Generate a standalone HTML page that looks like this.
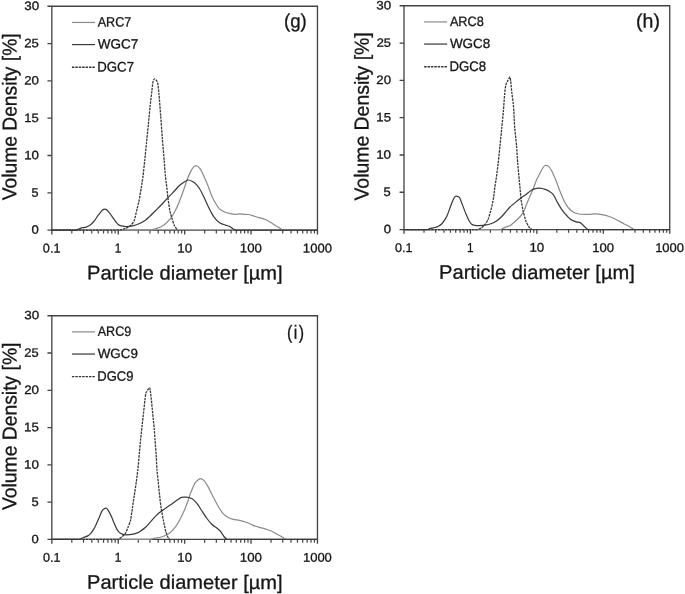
<!DOCTYPE html>
<html><head><meta charset="utf-8"><title>Particle size distributions</title><style>
html,body{margin:0;padding:0;background:#fff;}
svg{display:block;}
text{font-family:"Liberation Sans", sans-serif;fill:#161616;stroke:#161616;stroke-width:0.3px;}
</style></head><body>
<svg width="685" height="594" viewBox="0 0 685 594">
<rect width="685" height="594" fill="#fff"/>
<path d="M51.83 6.28H317.46V234.42" fill="none" stroke="#434343" stroke-width="1.33"/>
<path d="M51.83 5.68V234.42" fill="none" stroke="#434343" stroke-width="1.33"/>
<path d="M47.43 230.12H51.83M47.43 192.81H51.83M47.43 155.51H51.83M47.43 118.20H51.83M47.43 80.89H51.83M47.43 43.59H51.83M47.43 6.28H51.83" stroke="#434343" stroke-width="1.33"/>
<path d="M51.83 230.12H317.46" stroke="#434343" stroke-width="1.33"/>
<path d="M118.24 230.12V234.42M184.64 230.12V234.42M251.05 230.12V234.42" stroke="#434343" stroke-width="1.33"/>
<path d="M71.82 230.12V233.42M83.51 230.12V233.42M91.81 230.12V233.42M98.25 230.12V233.42M103.51 230.12V233.42M107.95 230.12V233.42M111.80 230.12V233.42M115.20 230.12V233.42M138.23 230.12V233.42M149.92 230.12V233.42M158.22 230.12V233.42M164.65 230.12V233.42M169.91 230.12V233.42M174.36 230.12V233.42M178.21 230.12V233.42M181.61 230.12V233.42M204.64 230.12V233.42M216.33 230.12V233.42M224.63 230.12V233.42M231.06 230.12V233.42M236.32 230.12V233.42M240.77 230.12V233.42M244.62 230.12V233.42M248.01 230.12V233.42M271.04 230.12V233.42M282.74 230.12V233.42M291.03 230.12V233.42M297.47 230.12V233.42M302.73 230.12V233.42M307.17 230.12V233.42M311.02 230.12V233.42M314.42 230.12V233.42" stroke="#434343" stroke-width="1.2"/>
<path d="M51.83 230.12H150.00C151.40 229.78 155.66 228.90 157.00 228.40C158.46 227.86 162.75 225.80 164.00 224.90C165.33 223.94 168.86 220.37 169.90 219.10C170.98 217.79 173.79 213.49 174.60 212.00C175.65 210.07 178.37 204.04 179.20 202.00C180.21 199.54 182.90 192.01 183.80 189.50C184.58 187.31 186.75 180.66 187.60 178.50C188.27 176.78 190.53 171.71 191.40 170.10C191.79 169.39 193.31 167.42 193.90 166.90C194.31 166.54 195.94 165.56 196.40 165.70C197.20 165.94 199.64 168.02 200.20 168.80C201.16 170.16 203.29 174.86 204.00 176.40C204.81 178.16 207.08 183.50 207.80 185.30C208.60 187.30 210.75 193.42 211.60 195.40C212.27 196.96 214.55 201.53 215.40 203.00C216.07 204.17 218.26 207.66 219.20 208.60C220.02 209.42 223.13 211.32 224.20 211.80C225.39 212.34 229.22 213.40 230.50 213.70C231.42 213.92 234.26 214.39 235.20 214.40C236.04 214.41 238.56 213.81 239.40 213.80C240.28 213.79 242.92 214.23 243.80 214.30C244.66 214.37 247.25 214.37 248.10 214.50C248.99 214.63 251.63 215.35 252.50 215.60C253.57 215.91 256.73 216.99 257.80 217.30C258.83 217.59 261.98 218.28 263.00 218.60C263.72 218.82 265.83 219.66 266.50 220.00C267.41 220.46 270.03 222.07 270.90 222.60C271.79 223.15 274.42 224.84 275.30 225.40C276.00 225.84 278.11 227.14 278.80 227.60C279.51 228.08 281.60 229.62 282.30 230.12" fill="none" stroke="#8a8a8a" stroke-width="1.2" stroke-linejoin="round"/>
<path d="M51.83 230.12H76.40C77.20 229.76 79.57 228.56 80.40 228.30C81.51 227.96 85.00 227.45 86.10 227.10C86.78 226.89 88.69 225.87 89.30 225.50C89.81 225.19 91.27 224.11 91.70 223.70C92.39 223.03 94.32 220.86 94.90 220.10C95.60 219.18 97.42 216.23 98.10 215.30C98.54 214.69 100.02 212.98 100.50 212.40C100.98 211.84 102.29 209.88 102.90 209.60C103.49 209.32 105.91 209.30 106.50 209.60C107.21 209.96 108.85 212.21 109.40 212.90C110.07 213.75 111.96 216.42 112.60 217.30C113.24 218.18 115.13 220.84 115.80 221.70C116.25 222.28 117.62 224.07 118.20 224.50C118.74 224.91 120.73 225.74 121.40 225.90C122.43 226.14 125.64 226.51 126.70 226.50C127.86 226.49 131.36 226.04 132.50 225.80C133.70 225.54 137.27 224.49 138.40 224.00C139.85 223.37 144.09 221.09 145.40 220.20C146.41 219.51 149.10 216.95 150.00 216.10C151.20 214.97 154.72 211.46 155.90 210.30C157.06 209.14 160.57 205.69 161.70 204.50C162.91 203.23 166.39 199.27 167.60 198.00C168.73 196.81 172.27 193.39 173.40 192.20C174.59 190.95 177.95 186.99 179.20 185.80C180.05 184.99 182.91 182.84 183.90 182.20C184.71 181.68 187.31 180.07 188.20 180.00C189.05 179.93 191.80 181.05 192.60 181.50C193.44 181.97 195.74 183.89 196.40 184.60C197.26 185.53 199.55 188.61 200.20 189.70C201.07 191.15 203.26 195.77 204.00 197.30C204.78 198.93 207.02 203.87 207.80 205.50C208.54 207.03 210.76 211.63 211.60 213.10C212.28 214.29 214.51 217.78 215.40 218.80C216.27 219.80 219.29 222.51 220.40 223.20C221.31 223.77 224.47 224.74 225.50 225.10C226.25 225.36 228.59 225.95 229.30 226.30C230.11 226.71 232.31 228.42 233.10 228.90C233.57 229.19 235.10 229.88 235.60 230.12H317.46" fill="none" stroke="#3a3a3a" stroke-width="1.22" stroke-linejoin="round"/>
<path d="M51.83 230.12H119.70C120.86 229.78 124.40 228.89 125.50 228.40C126.74 227.85 130.42 225.81 131.40 224.90C132.18 224.17 133.92 221.22 134.30 220.20C134.96 218.42 136.14 212.76 136.60 210.90C137.06 209.02 138.52 203.40 138.90 201.50C139.46 198.72 140.84 190.30 141.30 187.50C141.66 185.28 142.72 178.63 143.00 176.40C143.40 173.23 144.37 163.68 144.70 160.50C145.07 156.96 146.14 146.34 146.50 142.80C146.86 139.26 147.95 128.64 148.30 125.10C148.65 121.56 149.63 110.94 150.00 107.40C150.33 104.22 151.42 94.68 151.80 91.50C152.04 89.44 152.67 83.20 153.10 81.20C153.21 80.66 154.15 78.86 154.50 78.80C154.85 78.74 156.25 80.18 156.60 80.60C156.87 80.92 157.52 82.08 157.60 82.50C157.98 84.60 158.70 91.05 158.90 93.20C159.32 97.79 160.35 111.60 160.70 116.20C161.05 120.82 162.04 134.68 162.40 139.30C162.74 143.54 163.86 156.26 164.20 160.50C164.46 163.68 165.10 173.23 165.40 176.40C165.54 177.93 166.22 182.48 166.40 184.00C166.76 187.04 167.71 196.17 168.10 199.20C168.41 201.55 169.42 208.59 169.90 210.90C170.24 212.57 171.70 217.47 172.20 219.10C172.64 220.51 173.97 224.78 174.60 226.10C175.03 226.98 176.92 229.32 177.50 230.12" fill="none" stroke="#383838" stroke-width="1.3" stroke-linejoin="round" stroke-dasharray="2.5 0.9"/>
<path d="M71.93 22.44H95.03" stroke="#8a8a8a" stroke-width="1.2"/>
<path d="M71.93 44.58H95.03" stroke="#3a3a3a" stroke-width="1.22"/>
<path d="M71.93 67.24H95.43" stroke="#383838" stroke-width="1.3" stroke-dasharray="2.5 0.9"/>
<path d="M403.99 5.77H669.74V233.86" fill="none" stroke="#434343" stroke-width="1.33"/>
<path d="M403.99 5.17V233.86" fill="none" stroke="#434343" stroke-width="1.33"/>
<path d="M399.59 229.56H403.99M399.59 192.26H403.99M399.59 154.96H403.99M399.59 117.67H403.99M399.59 80.37H403.99M399.59 43.07H403.99M399.59 5.77H403.99" stroke="#434343" stroke-width="1.33"/>
<path d="M403.99 229.56H669.74" stroke="#434343" stroke-width="1.33"/>
<path d="M470.43 229.56V233.86M536.87 229.56V233.86M603.30 229.56V233.86" stroke="#434343" stroke-width="1.33"/>
<path d="M423.99 229.56V232.86M435.69 229.56V232.86M443.99 229.56V232.86M450.43 229.56V232.86M455.69 229.56V232.86M460.14 229.56V232.86M463.99 229.56V232.86M467.39 229.56V232.86M490.43 229.56V232.86M502.13 229.56V232.86M510.43 229.56V232.86M516.87 229.56V232.86M522.13 229.56V232.86M526.57 229.56V232.86M530.43 229.56V232.86M533.82 229.56V232.86M556.86 229.56V232.86M568.56 229.56V232.86M576.86 229.56V232.86M583.30 229.56V232.86M588.56 229.56V232.86M593.01 229.56V232.86M596.86 229.56V232.86M600.26 229.56V232.86M623.30 229.56V232.86M635.00 229.56V232.86M643.30 229.56V232.86M649.74 229.56V232.86M655.00 229.56V232.86M659.45 229.56V232.86M663.30 229.56V232.86M666.70 229.56V232.86" stroke="#434343" stroke-width="1.2"/>
<path d="M403.99 229.56H500.80C501.64 229.13 504.14 227.78 505.00 227.40C506.02 226.95 509.25 225.96 510.20 225.40C511.33 224.72 514.41 222.09 515.40 221.20C516.51 220.21 519.74 217.13 520.70 216.00C521.42 215.15 523.31 212.31 523.80 211.30C524.55 209.79 526.25 204.97 526.90 203.40C527.51 201.93 529.47 197.56 530.10 196.10C530.73 194.64 532.62 190.27 533.20 188.80C533.86 187.13 535.59 182.04 536.30 180.40C536.85 179.12 538.86 175.44 539.50 174.20C539.90 173.42 541.07 171.07 541.50 170.30C541.87 169.63 543.03 167.60 543.50 167.00C543.77 166.64 544.80 165.55 545.20 165.50C545.82 165.43 548.10 165.97 548.60 166.40C549.44 167.11 551.36 170.17 551.90 171.20C552.84 173.01 555.23 178.70 556.00 180.60C556.85 182.72 559.16 189.18 560.00 191.30C560.76 193.22 563.08 198.96 564.00 200.80C564.70 202.20 567.11 206.31 568.10 207.50C569.01 208.59 572.30 211.47 573.50 212.20C574.44 212.77 577.71 213.80 578.80 214.00C580.13 214.24 584.24 214.36 585.60 214.40C586.48 214.42 589.12 214.35 590.00 214.30C591.00 214.25 594.00 213.87 595.00 213.90C596.38 213.93 600.54 214.35 601.90 214.60C603.38 214.87 607.78 216.00 609.20 216.50C610.70 217.02 615.08 218.99 616.50 219.70C618.00 220.45 622.32 223.01 623.80 223.80C624.94 224.41 628.47 226.06 629.60 226.70C630.51 227.22 633.12 228.99 634.00 229.56" fill="none" stroke="#8a8a8a" stroke-width="1.2" stroke-linejoin="round"/>
<path d="M403.99 229.56H427.90C428.60 229.27 430.68 228.31 431.40 228.10C432.08 227.90 434.21 227.68 434.90 227.50C435.61 227.32 437.76 226.65 438.40 226.30C439.16 225.89 441.29 224.31 441.90 223.70C442.51 223.09 444.03 220.93 444.50 220.20C445.09 219.27 446.75 216.40 447.20 215.40C447.81 214.04 449.28 209.80 449.80 208.40C450.32 207.00 451.80 202.76 452.40 201.40C452.84 200.40 454.32 197.33 455.00 196.60C455.28 196.31 456.78 196.22 457.20 196.30C457.66 196.38 459.11 197.03 459.40 197.40C459.91 198.05 460.87 200.59 461.20 201.40C461.75 202.79 463.27 207.01 463.80 208.40C464.31 209.73 465.84 213.70 466.40 215.00C466.90 216.16 468.47 219.61 469.10 220.70C469.53 221.45 471.05 223.68 471.70 224.20C472.19 224.60 474.16 225.18 474.80 225.30C475.72 225.46 478.56 225.61 479.50 225.60C480.64 225.59 484.08 225.38 485.20 225.20C486.36 225.02 489.81 224.21 490.90 223.80C492.07 223.35 495.47 221.61 496.50 220.90C497.69 220.09 500.97 217.21 502.00 216.20C502.87 215.35 505.20 212.52 506.00 211.60C506.84 210.64 509.29 207.69 510.20 206.80C511.17 205.85 514.35 203.26 515.40 202.40C516.45 201.54 519.62 199.01 520.70 198.20C521.72 197.43 524.88 195.27 525.90 194.50C526.96 193.71 529.99 191.10 531.10 190.40C531.87 189.92 534.43 188.83 535.30 188.60C536.11 188.39 538.67 188.14 539.50 188.20C540.65 188.28 544.10 188.95 545.20 189.30C546.04 189.57 548.46 190.81 549.20 191.30C550.08 191.89 552.67 193.86 553.30 194.70C554.29 196.02 556.47 200.64 557.30 202.10C558.07 203.46 560.43 207.51 561.30 208.80C562.05 209.93 564.51 213.18 565.40 214.20C566.41 215.34 569.58 218.72 570.80 219.60C571.72 220.26 575.01 221.55 576.10 221.90C576.89 222.15 579.50 222.22 580.20 222.60C581.12 223.10 583.41 225.55 584.20 226.30C584.89 226.95 586.92 228.91 587.60 229.56H669.74" fill="none" stroke="#3a3a3a" stroke-width="1.22" stroke-linejoin="round"/>
<path d="M403.99 229.56H477.70C478.44 229.25 480.76 228.46 481.40 228.00C482.26 227.39 484.55 225.04 485.20 224.20C485.87 223.34 487.57 220.50 488.00 219.50C488.61 218.06 489.97 213.51 490.40 212.00C490.83 210.49 491.97 205.93 492.30 204.40C492.63 202.91 493.48 198.41 493.70 196.90C493.98 195.01 494.54 189.29 494.80 187.40C495.06 185.51 496.04 179.89 496.30 178.00C496.72 175.01 497.86 166.00 498.20 163.00C498.60 159.48 499.64 148.92 500.00 145.40C500.36 141.86 501.45 131.24 501.80 127.70C502.13 124.36 503.12 114.34 503.40 111.00C503.70 107.48 504.37 96.91 504.70 93.40C504.85 91.75 505.40 86.79 505.80 85.20C506.06 84.17 507.52 81.26 508.00 80.30C508.34 79.62 509.65 76.90 509.90 77.00C510.19 77.12 510.59 80.51 510.70 81.40C510.97 83.59 511.55 90.20 511.80 92.40C512.05 94.58 512.97 101.12 513.20 103.30C513.37 104.84 513.71 109.46 513.80 111.00C514.01 114.34 514.44 124.37 514.70 127.70C514.98 131.25 516.20 141.86 516.50 145.40C516.80 148.92 517.42 159.48 517.70 163.00C517.96 166.30 518.90 176.20 519.20 179.50C519.36 181.20 519.84 186.30 520.00 188.00C520.24 190.46 520.86 197.85 521.20 200.30C521.52 202.61 522.79 209.52 523.30 211.80C523.73 213.70 525.23 219.38 525.90 221.20C526.31 222.34 528.07 225.57 528.70 226.60C528.95 227.01 529.94 228.09 530.30 228.40C530.64 228.68 531.82 229.33 532.20 229.56" fill="none" stroke="#383838" stroke-width="1.3" stroke-linejoin="round" stroke-dasharray="2.5 0.9"/>
<path d="M424.09 21.93H447.19" stroke="#8a8a8a" stroke-width="1.2"/>
<path d="M424.09 44.07H447.19" stroke="#3a3a3a" stroke-width="1.22"/>
<path d="M424.09 66.73H447.59" stroke="#383838" stroke-width="1.3" stroke-dasharray="2.5 0.9"/>
<path d="M51.83 315.73H317.46V543.70" fill="none" stroke="#434343" stroke-width="1.33"/>
<path d="M51.83 315.13V543.70" fill="none" stroke="#434343" stroke-width="1.33"/>
<path d="M47.43 539.40H51.83M47.43 502.12H51.83M47.43 464.84H51.83M47.43 427.56H51.83M47.43 390.29H51.83M47.43 353.01H51.83M47.43 315.73H51.83" stroke="#434343" stroke-width="1.33"/>
<path d="M51.83 539.40H317.46" stroke="#434343" stroke-width="1.33"/>
<path d="M118.24 539.40V543.70M184.64 539.40V543.70M251.05 539.40V543.70" stroke="#434343" stroke-width="1.33"/>
<path d="M71.82 539.40V542.70M83.51 539.40V542.70M91.81 539.40V542.70M98.25 539.40V542.70M103.51 539.40V542.70M107.95 539.40V542.70M111.80 539.40V542.70M115.20 539.40V542.70M138.23 539.40V542.70M149.92 539.40V542.70M158.22 539.40V542.70M164.65 539.40V542.70M169.91 539.40V542.70M174.36 539.40V542.70M178.21 539.40V542.70M181.61 539.40V542.70M204.64 539.40V542.70M216.33 539.40V542.70M224.63 539.40V542.70M231.06 539.40V542.70M236.32 539.40V542.70M240.77 539.40V542.70M244.62 539.40V542.70M248.01 539.40V542.70M271.04 539.40V542.70M282.74 539.40V542.70M291.03 539.40V542.70M297.47 539.40V542.70M302.73 539.40V542.70M307.17 539.40V542.70M311.02 539.40V542.70M314.42 539.40V542.70" stroke="#434343" stroke-width="1.2"/>
<path d="M51.83 539.40H149.50C150.76 539.16 154.55 538.47 155.80 538.20C157.07 537.93 160.87 537.08 162.10 536.70C163.19 536.36 166.44 535.19 167.40 534.60C168.58 533.87 171.87 531.14 172.80 530.10C174.05 528.72 177.35 524.11 178.30 522.50C179.55 520.39 182.79 513.74 183.80 511.50C184.75 509.40 187.31 502.96 188.10 500.80C188.59 499.46 189.68 495.32 190.20 494.00C191.12 491.68 193.96 484.64 195.30 482.60C195.98 481.56 199.25 478.83 200.30 478.60C201.01 478.45 203.51 480.09 204.10 480.70C205.03 481.65 207.23 485.21 207.90 486.40C209.01 488.37 211.96 494.49 213.00 496.50C213.98 498.41 216.91 504.15 218.00 506.00C218.93 507.57 221.90 512.25 223.10 513.60C223.92 514.53 227.02 516.79 228.10 517.40C229.04 517.93 232.15 519.03 233.20 519.30C234.41 519.61 238.17 520.03 239.40 520.30C240.29 520.49 242.92 521.33 243.80 521.60C244.66 521.87 247.26 522.66 248.10 523.00C249.00 523.36 251.60 524.74 252.50 525.10C253.54 525.52 256.73 526.58 257.80 526.90C258.83 527.20 261.97 527.90 263.00 528.20C264.07 528.52 267.25 529.62 268.30 530.00C269.19 530.32 271.86 531.28 272.70 531.70C273.60 532.14 276.12 533.81 277.00 534.30C277.86 534.77 280.56 535.99 281.40 536.50C282.24 537.01 284.60 538.82 285.40 539.40" fill="none" stroke="#8a8a8a" stroke-width="1.2" stroke-linejoin="round"/>
<path d="M51.83 539.40H79.90C80.60 539.02 82.67 537.82 83.40 537.50C84.25 537.12 87.00 536.35 87.80 535.90C88.48 535.51 90.28 533.89 90.80 533.30C91.50 532.49 93.36 529.83 93.90 528.90C94.50 527.89 96.00 524.67 96.50 523.60C97.06 522.39 98.67 518.72 99.20 517.50C99.73 516.28 101.19 512.57 101.80 511.40C102.05 510.91 103.06 509.49 103.50 509.20C104.02 508.87 106.11 508.10 106.60 508.30C107.17 508.54 108.42 510.74 108.80 511.40C109.38 512.40 110.92 515.54 111.40 516.60C111.96 517.82 113.47 521.57 114.00 522.80C114.53 524.03 116.06 527.74 116.70 528.90C117.12 529.66 118.67 531.83 119.30 532.40C119.89 532.93 122.05 534.14 122.80 534.40C123.45 534.62 125.60 534.82 126.30 534.80C127.66 534.76 131.76 534.35 133.10 534.10C134.12 533.91 137.12 532.95 138.10 532.60C138.50 532.45 139.65 531.85 140.00 531.60C141.13 530.79 144.48 528.25 145.50 527.30C146.66 526.21 149.82 522.58 150.90 521.40C152.00 520.20 155.24 516.54 156.40 515.40C157.22 514.58 159.88 512.31 160.80 511.60C161.86 510.77 165.19 508.47 166.30 507.70C167.59 506.81 171.52 504.20 172.80 503.30C173.76 502.62 176.53 500.46 177.50 499.80C178.25 499.28 180.55 497.65 181.40 497.40C182.33 497.13 185.42 497.07 186.40 497.20C187.56 497.35 191.10 498.23 192.10 498.80C193.12 499.37 195.74 501.97 196.50 502.90C197.64 504.29 200.59 508.89 201.60 510.40C202.61 511.91 205.53 516.53 206.60 518.00C207.55 519.31 210.56 523.17 211.70 524.30C212.60 525.19 215.81 527.31 216.80 528.10C217.57 528.71 219.88 530.56 220.50 531.30C221.38 532.34 223.46 535.93 224.30 537.00C224.74 537.55 226.38 538.92 226.90 539.40H317.46" fill="none" stroke="#3a3a3a" stroke-width="1.22" stroke-linejoin="round"/>
<path d="M51.83 539.40H118.40C119.10 538.88 121.24 537.37 121.90 536.80C122.64 536.15 124.87 534.12 125.40 533.30C126.09 532.22 127.52 528.51 128.00 527.30C128.54 525.95 130.18 521.91 130.50 520.50C131.06 518.03 132.02 510.42 132.40 507.90C132.78 505.38 133.92 497.82 134.30 495.30C134.68 492.76 135.85 485.14 136.20 482.60C136.55 480.08 137.53 472.53 137.80 470.00C138.19 466.41 139.17 455.60 139.50 452.00C139.73 449.52 140.36 442.08 140.60 439.60C140.88 436.78 141.79 428.32 142.10 425.50C142.39 422.86 143.31 414.94 143.60 412.30C143.87 409.88 144.61 402.62 144.90 400.20C145.07 398.78 145.54 394.46 145.90 393.10C146.08 392.44 147.21 390.67 147.60 390.10C147.97 389.57 149.41 387.60 149.70 387.60C149.93 387.60 150.13 389.60 150.20 390.10C150.43 391.72 151.02 396.58 151.20 398.20C151.42 400.22 152.00 406.28 152.20 408.30C152.40 410.32 153.00 416.38 153.20 418.40C153.40 420.42 154.03 426.48 154.20 428.50C154.39 430.72 154.83 437.38 155.00 439.60C155.21 442.48 155.91 451.12 156.10 454.00C156.31 457.20 156.75 466.81 157.00 470.00C157.19 472.53 158.04 480.08 158.30 482.60C158.56 485.14 159.32 492.76 159.60 495.30C159.88 497.82 160.72 505.39 161.10 507.90C161.48 510.43 162.90 517.99 163.40 520.50C163.86 522.79 165.27 529.66 165.90 531.90C166.27 533.20 167.80 537.01 168.40 538.20C168.56 538.51 169.44 539.16 169.70 539.40" fill="none" stroke="#383838" stroke-width="1.3" stroke-linejoin="round" stroke-dasharray="2.5 0.9"/>
<path d="M71.93 331.89H95.03" stroke="#8a8a8a" stroke-width="1.2"/>
<path d="M71.93 354.03H95.03" stroke="#3a3a3a" stroke-width="1.22"/>
<path d="M71.93 376.69H95.43" stroke="#383838" stroke-width="1.3" stroke-dasharray="2.5 0.9"/>
<g class="t">
<text transform="translate(38.77 233.84) matrix(1.0744 0.0015 0 1 0 0)" font-size="12.165" text-anchor="end">0</text>
<text transform="translate(38.54 196.64) matrix(1.0253 0.0015 0 1 0 0)" font-size="12.304" text-anchor="end">5</text>
<text transform="translate(38.99 159.24) matrix(1.0967 0.0015 0 1 0 0)" font-size="12.151" text-anchor="end">10</text>
<text transform="translate(38.74 121.94) matrix(1.0663 0.0015 0 1 0 0)" font-size="12.223" text-anchor="end">15</text>
<text transform="translate(38.97 84.63) matrix(1.0933 0.0015 0 1 0 0)" font-size="12.142" text-anchor="end">20</text>
<text transform="translate(38.80 47.33) matrix(1.0737 0.0015 0 1 0 0)" font-size="12.185" text-anchor="end">25</text>
<text transform="translate(39.19 10.04) matrix(1.1006 0.0015 0 1 0 0)" font-size="12.179" text-anchor="end">30</text>
<text transform="translate(51.66 252.46) matrix(0.9957 0.0015 0 1 0 0)" font-size="12.745" text-anchor="middle">0.1</text>
<text transform="translate(118.11 252.54) matrix(0.9088 0.0015 0 1 0 0)" font-size="12.965" text-anchor="middle">1</text>
<text transform="translate(184.67 252.41) matrix(1.0539 0.0015 0 1 0 0)" font-size="12.707" text-anchor="middle">10</text>
<text transform="translate(250.85 252.37) matrix(1.0425 0.0015 0 1 0 0)" font-size="12.661" text-anchor="middle">100</text>
<text transform="translate(317.43 252.43) matrix(1.0307 0.0015 0 1 0 0)" font-size="12.756" text-anchor="middle">1000</text>
<text transform="translate(184.82 279.51) matrix(1.0253 0.0015 0 1 0 0)" font-size="19.595" text-anchor="middle">Particle diameter [µm]</text>
<text transform="translate(16.47 116.88) rotate(-90) matrix(0.9574 0.0015 0 1 0 0)" font-size="20.117" text-anchor="middle">Volume Density [%]</text>
<text transform="translate(97.68 26.54) matrix(0.9286 0.0015 0 1 0 0)" font-size="13.586">ARC7</text>
<text transform="translate(97.66 48.54) matrix(1.0042 0.0015 0 1 0 0)" font-size="13.479">WGC7</text>
<text transform="translate(97.29 71.46) matrix(0.9584 0.0015 0 1 0 0)" font-size="13.794">DGC7</text>
<text transform="translate(295.41 27.51) matrix(0.9650 0.0015 0 1 0 0)" font-size="19.357" text-anchor="middle">(g)</text>
<text transform="translate(390.94 233.34) matrix(1.0801 0.0015 0 1 0 0)" font-size="12.181" text-anchor="end">0</text>
<text transform="translate(390.78 196.02) matrix(1.0501 0.0015 0 1 0 0)" font-size="12.352" text-anchor="end">5</text>
<text transform="translate(391.10 158.66) matrix(1.1017 0.0015 0 1 0 0)" font-size="12.205" text-anchor="end">10</text>
<text transform="translate(390.99 121.39) matrix(1.0751 0.0015 0 1 0 0)" font-size="12.285" text-anchor="end">15</text>
<text transform="translate(391.10 84.12) matrix(1.0824 0.0015 0 1 0 0)" font-size="12.240" text-anchor="end">20</text>
<text transform="translate(390.92 46.85) matrix(1.0639 0.0015 0 1 0 0)" font-size="12.044" text-anchor="end">25</text>
<text transform="translate(391.28 9.43) matrix(1.0992 0.0015 0 1 0 0)" font-size="12.203" text-anchor="end">30</text>
<text transform="translate(403.83 251.95) matrix(0.9936 0.0015 0 1 0 0)" font-size="12.678" text-anchor="middle">0.1</text>
<text transform="translate(470.29 251.96) matrix(0.9011 0.0015 0 1 0 0)" font-size="13.046" text-anchor="middle">1</text>
<text transform="translate(536.82 251.87) matrix(1.0487 0.0015 0 1 0 0)" font-size="12.755" text-anchor="middle">10</text>
<text transform="translate(603.01 251.91) matrix(1.0345 0.0015 0 1 0 0)" font-size="12.617" text-anchor="middle">100</text>
<text transform="translate(669.54 251.90) matrix(1.0277 0.0015 0 1 0 0)" font-size="12.618" text-anchor="middle">1000</text>
<text transform="translate(536.94 278.96) matrix(1.0252 0.0015 0 1 0 0)" font-size="19.600" text-anchor="middle">Particle diameter [µm]</text>
<text transform="translate(368.63 116.39) rotate(-90) matrix(0.9602 0.0015 0 1 0 0)" font-size="20.226" text-anchor="middle">Volume Density [%]</text>
<text transform="translate(449.88 25.95) matrix(0.9359 0.0015 0 1 0 0)" font-size="13.574">ARC8</text>
<text transform="translate(449.88 47.98) matrix(1.0050 0.0015 0 1 0 0)" font-size="13.426">WGC8</text>
<text transform="translate(449.41 70.89) matrix(0.9531 0.0015 0 1 0 0)" font-size="13.861">DGC8</text>
<text transform="translate(647.94 27.52) matrix(1.0113 0.0015 0 1 0 0)" font-size="19.343" text-anchor="middle">(h)</text>
<text transform="translate(38.80 543.24) matrix(1.0781 0.0015 0 1 0 0)" font-size="12.077" text-anchor="end">0</text>
<text transform="translate(38.61 505.95) matrix(1.0467 0.0015 0 1 0 0)" font-size="12.344" text-anchor="end">5</text>
<text transform="translate(38.96 468.64) matrix(1.0943 0.0015 0 1 0 0)" font-size="12.229" text-anchor="end">10</text>
<text transform="translate(38.83 431.32) matrix(1.0688 0.0015 0 1 0 0)" font-size="12.424" text-anchor="end">15</text>
<text transform="translate(39.00 393.98) matrix(1.0968 0.0015 0 1 0 0)" font-size="12.194" text-anchor="end">20</text>
<text transform="translate(38.74 356.70) matrix(1.0696 0.0015 0 1 0 0)" font-size="12.073" text-anchor="end">25</text>
<text transform="translate(39.18 319.35) matrix(1.1103 0.0015 0 1 0 0)" font-size="12.096" text-anchor="end">30</text>
<text transform="translate(51.65 561.82) matrix(0.9935 0.0015 0 1 0 0)" font-size="12.672" text-anchor="middle">0.1</text>
<text transform="translate(118.12 561.88) matrix(0.9165 0.0015 0 1 0 0)" font-size="12.996" text-anchor="middle">1</text>
<text transform="translate(184.65 561.84) matrix(1.0390 0.0015 0 1 0 0)" font-size="12.746" text-anchor="middle">10</text>
<text transform="translate(250.85 561.78) matrix(1.0435 0.0015 0 1 0 0)" font-size="12.784" text-anchor="middle">100</text>
<text transform="translate(317.41 561.81) matrix(1.0276 0.0015 0 1 0 0)" font-size="12.638" text-anchor="middle">1000</text>
<text transform="translate(184.82 588.86) matrix(1.0226 0.0015 0 1 0 0)" font-size="19.630" text-anchor="middle">Particle diameter [µm]</text>
<text transform="translate(16.46 426.28) rotate(-90) matrix(0.9618 0.0015 0 1 0 0)" font-size="20.100" text-anchor="middle">Volume Density [%]</text>
<text transform="translate(97.74 335.84) matrix(0.9298 0.0015 0 1 0 0)" font-size="13.516">ARC9</text>
<text transform="translate(97.71 357.92) matrix(1.0026 0.0015 0 1 0 0)" font-size="13.363">WGC9</text>
<text transform="translate(97.26 380.82) matrix(0.9521 0.0015 0 1 0 0)" font-size="13.673">DGC9</text>
<text transform="translate(296.21 338.70) matrix(0.8398 0.0015 0 1 0 0)" font-size="19.009" text-anchor="middle" letter-spacing="1.6">(i)</text>
</g>
</svg>
</body></html>
